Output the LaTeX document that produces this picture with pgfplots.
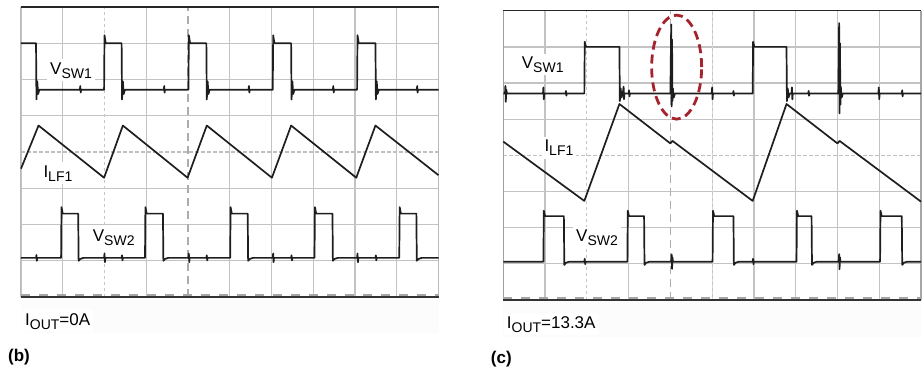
\documentclass[border=0pt]{standalone}
\usepackage{pgfplots}
\pgfplotsset{compat=1.18}
\usepackage{fontspec}
\setmainfont{Liberation Sans}
\definecolor{ellred}{RGB}{165,35,45}
\definecolor{trace}{RGB}{30,30,30}
\definecolor{gridc}{RGB}{195,195,195}
\definecolor{strip}{RGB}{252,252,252}
\newcommand{\sub}[1]{\raisebox{-4pt}{\fontsize{14}{16}\selectfont #1}}
\pgfplotsset{scope/.style={scale only axis, xmin=0, xmax=10, ymin=0, ymax=8,
  axis line style={draw=none}, tick style={draw=none},
  xticklabel=\empty, yticklabel=\empty,
  xtick={0,1,3,5,6,7,8,9,10}, ytick={0,1,2,3,5,6,7,8},
  grid=major, grid style={gridc, line width=1.3pt}, clip=false},
  tr/.style={trace, line width=1.7pt, no marks, line join=round}}
\begin{document}
\begin{tikzpicture}
\useasboundingbox (0,0) rectangle (923pt,-367pt);
\fill[strip] (21pt,-297pt) rectangle (438.5pt,-333pt);
\fill[strip] (503.3pt,-300pt) rectangle (921pt,-337pt);
% ---------------- (b)
\begin{axis}[scope, at={(21pt,-297pt)}, anchor=south west, width=417.5pt, height=290pt]
\draw[gray!45, line width=1.1pt, dash pattern=on 3pt off 3pt] (axis cs:2,0)--(axis cs:2,8);
\draw[gray!65, line width=1.3pt, dash pattern=on 8pt off 5pt] (axis cs:4,0)--(axis cs:4,8);
\draw[gray!50, line width=1.2pt, dash pattern=on 4pt off 2pt] (axis cs:0,4)--(axis cs:10,4);
\draw[gray!55, line width=1pt] (axis cs:0,0)--(axis cs:0,8);
\draw[gray!55, line width=1.2pt] (axis cs:10,0)--(axis cs:10,8);
\draw[black!85, line width=1.4pt] (axis cs:0,8)--(axis cs:10,8);
\draw[black!80, line width=1.4pt] (axis cs:0,0)--(axis cs:10,0);
\draw[gray!70, line width=1.4pt, dash pattern=on 9pt off 9pt] (axis cs:0,0.06)--(axis cs:10,0.06);
% VSW1
\addplot[tr] coordinates {(0,7.0) (0.36,7.0) (0.37,5.45) (0.39,5.95) (0.41,5.6) (0.44,5.72)
 (1.41,5.72) (1.42,5.82) (1.43,5.64) (1.44,5.72)
 (1.99,5.72) (2.0,7.22) (2.03,7.0) (2.41,7.0) (2.42,5.45) (2.44,5.95) (2.46,5.6) (2.49,5.72)
 (3.42,5.72) (3.43,5.82) (3.44,5.64) (3.45,5.72)
 (4.01,5.72) (4.02,7.22) (4.05,7.0) (4.44,7.0) (4.45,5.45) (4.47,5.95) (4.49,5.6) (4.52,5.72)
 (5.45,5.72) (5.46,5.82) (5.47,5.64) (5.48,5.72)
 (6.03,5.72) (6.04,7.22) (6.07,7.0) (6.47,7.0) (6.48,5.45) (6.50,5.95) (6.52,5.6) (6.55,5.72)
 (7.47,5.72) (7.48,5.82) (7.49,5.64) (7.50,5.72)
 (8.05,5.72) (8.06,7.22) (8.09,7.0) (8.49,7.0) (8.50,5.45) (8.52,5.95) (8.54,5.6) (8.57,5.72)
 (9.48,5.72) (9.49,5.82) (9.50,5.64) (9.51,5.72) (10,5.72)};
% ILF1
\addplot[tr] coordinates {(0,3.54) (0.42,4.73) (1.99,3.29) (2.44,4.73) (3.99,3.29) (4.45,4.73)
 (6.01,3.29) (6.47,4.73) (8.03,3.29) (8.49,4.73) (10,3.36)};
% VSW2
\addplot[tr] coordinates {(0,1.08) (0.36,1.08) (0.37,1.16) (0.38,1.0) (0.39,1.08)
 (0.96,1.08) (0.97,2.48) (1.0,2.30) (1.37,2.30) (1.38,1.0) (1.42,1.05) (1.5,1.08)
 (1.99,1.08) (2.0,1.2) (2.01,0.96) (2.02,1.08) (2.41,1.08) (2.42,1.15) (2.43,1.01) (2.44,1.08)
 (2.97,1.08) (2.98,2.48) (3.01,2.30) (3.40,2.30) (3.41,1.0) (3.45,1.05) (3.53,1.08)
 (4.01,1.08) (4.02,1.2) (4.03,0.96) (4.04,1.08) (4.44,1.08) (4.45,1.15) (4.46,1.01) (4.47,1.08)
 (5.01,1.08) (5.02,2.48) (5.05,2.30) (5.43,2.30) (5.44,1.0) (5.48,1.05) (5.56,1.08)
 (6.03,1.08) (6.04,1.2) (6.05,0.96) (6.06,1.08) (6.47,1.08) (6.48,1.15) (6.49,1.01) (6.50,1.08)
 (7.03,1.08) (7.04,2.48) (7.07,2.30) (7.46,2.30) (7.47,1.0) (7.51,1.05) (7.59,1.08)
 (8.05,1.08) (8.06,1.2) (8.07,0.96) (8.08,1.08) (8.49,1.08) (8.50,1.15) (8.51,1.01) (8.52,1.08)
 (9.06,1.08) (9.07,2.48) (9.10,2.30) (9.47,2.30) (9.48,1.0) (9.52,1.05) (9.60,1.08) (10,1.08)};
\end{axis}
% ---------------- (c)
\begin{axis}[scope, at={(503.3pt,-300pt)}, anchor=south west, width=417.7pt, height=289.3pt]
\draw[gray!45, line width=1.1pt, dash pattern=on 3pt off 3pt] (axis cs:2,0)--(axis cs:2,8);
\draw[gray!65, line width=1.3pt, dash pattern=on 8pt off 5pt] (axis cs:4,0)--(axis cs:4,8);
\draw[gray!30, line width=1.1pt, dash pattern=on 3pt off 3pt] (axis cs:5,0)--(axis cs:5,8);
\draw[gray!50, line width=1.2pt, dash pattern=on 4pt off 2pt] (axis cs:0,4)--(axis cs:10,4);
\draw[gray!75, line width=1.2pt] (axis cs:0,0)--(axis cs:0,8);
\draw[gray!70, line width=1.4pt] (axis cs:10,0)--(axis cs:10,8);
\draw[black!85, line width=1.4pt] (axis cs:0,8)--(axis cs:10,8);
\draw[black!80, line width=1.4pt] (axis cs:0,0)--(axis cs:10,0);
\draw[gray!70, line width=1.4pt, dash pattern=on 9pt off 9pt] (axis cs:0,0.06)--(axis cs:10,0.06);
% VSW1
\addplot[tr] coordinates {(0,5.71) (0.04,5.71) (0.05,5.92) (0.06,5.48) (0.07,5.82) (0.09,5.71)
 (0.95,5.71) (0.96,5.88) (0.97,5.55) (0.98,5.71) (1.49,5.71) (1.50,5.78) (1.51,5.65) (1.52,5.71)
 (1.94,5.71) (1.95,7.14) (1.98,7.0) (2.78,7.0) (2.79,5.5) (2.81,5.85) (2.83,5.6) (2.86,5.71)
 (2.88,5.9) (2.89,5.55) (2.9,5.71) (3.0,5.71) (3.01,5.8) (3.02,5.63) (3.03,5.71)
 (4.0,5.71) (4.02,7.62) (4.03,5.35) (4.04,7.2) (4.05,5.5) (4.06,5.85) (4.08,5.6) (4.11,5.71)
 (4.99,5.71) (5.0,5.88) (5.01,5.55) (5.02,5.71) (5.5,5.71) (5.51,5.78) (5.52,5.65) (5.53,5.71)
 (5.97,5.71) (5.98,7.14) (6.01,7.0) (6.78,7.0) (6.79,5.5) (6.81,5.85) (6.83,5.6) (6.86,5.71)
 (6.9,5.71) (6.91,5.88) (6.92,5.55) (6.93,5.71) (7.3,5.71) (7.31,5.78) (7.32,5.65) (7.33,5.71)
 (8.02,5.71) (8.04,7.66) (8.05,5.16) (8.06,7.1) (8.07,5.4) (8.08,5.9) (8.10,5.6) (8.13,5.71)
 (8.98,5.71) (8.99,5.88) (9.0,5.55) (9.01,5.71) (9.54,5.71) (9.55,5.8) (9.56,5.63) (9.57,5.71) (10,5.71)};
% ILF1
\addplot[tr] coordinates {(0,4.38) (1.94,2.74) (2.78,5.42) (4.0,4.33) (4.05,4.40) (5.97,2.74)
 (6.78,5.42) (8.0,4.33) (8.05,4.40) (10,2.72)};
% VSW2
\addplot[tr] coordinates {(0,1.06) (0.96,1.06) (0.97,2.47) (1.0,2.32) (1.45,2.32) (1.46,0.97) (1.5,1.03) (1.58,1.06)
 (1.94,1.06) (1.95,1.14) (1.96,0.99) (1.97,1.06)
 (2.97,1.06) (2.98,2.47) (3.01,2.32) (3.37,2.32) (3.38,0.97) (3.42,1.03) (3.5,1.06)
 (4.02,1.06) (4.03,1.26) (4.04,0.86) (4.05,1.18) (4.06,1.06)
 (5.01,1.06) (5.02,2.47) (5.05,2.32) (5.51,2.32) (5.52,0.97) (5.56,1.03) (5.64,1.06)
 (5.97,1.06) (5.98,1.14) (5.99,0.99) (6.0,1.06)
 (7.02,1.06) (7.03,2.47) (7.06,2.32) (7.38,2.32) (7.39,0.97) (7.43,1.03) (7.51,1.06)
 (8.03,1.06) (8.04,1.27) (8.05,0.85) (8.06,1.18) (8.07,1.06)
 (9.02,1.06) (9.03,2.47) (9.06,2.32) (9.54,2.32) (9.55,0.97) (9.59,1.03) (9.67,1.06) (10,1.06)};
\draw[ellred, line width=2.8pt, dash pattern=on 9pt off 5pt] (axis cs:4.15,6.44) ellipse [x radius=25pt, y radius=52pt];
\end{axis}
% ---------------- labels
\begin{scope}[every node/.style={fill=white, inner sep=3pt, font=\fontsize{17}{20}\selectfont, anchor=base west}]
\node at (47pt,-74pt) {V\sub{SW1}};
\node at (40.3pt,-177pt) {I\sub{LF1}};
\node at (89.7pt,-241.7pt) {V\sub{SW2}};
\node at (22pt,-325pt) {I\sub{OUT}=0A};
\node at (518.7pt,-68.3pt) {V\sub{SW1}};
\node at (541.3pt,-151.7pt) {I\sub{LF1}};
\node at (573pt,-241.7pt) {V\sub{SW2}};
\node at (503.7pt,-328.3pt) {I\sub{OUT}=13.3A};
\end{scope}
\node[anchor=base west, inner sep=0pt, font=\fontsize{17}{20}\selectfont\bfseries] at (8pt,-361.7pt) {(b)};
\node[anchor=base west, inner sep=0pt, font=\fontsize{17}{20}\selectfont\bfseries] at (490.7pt,-363.3pt) {(c)};
\end{tikzpicture}
\end{document}
